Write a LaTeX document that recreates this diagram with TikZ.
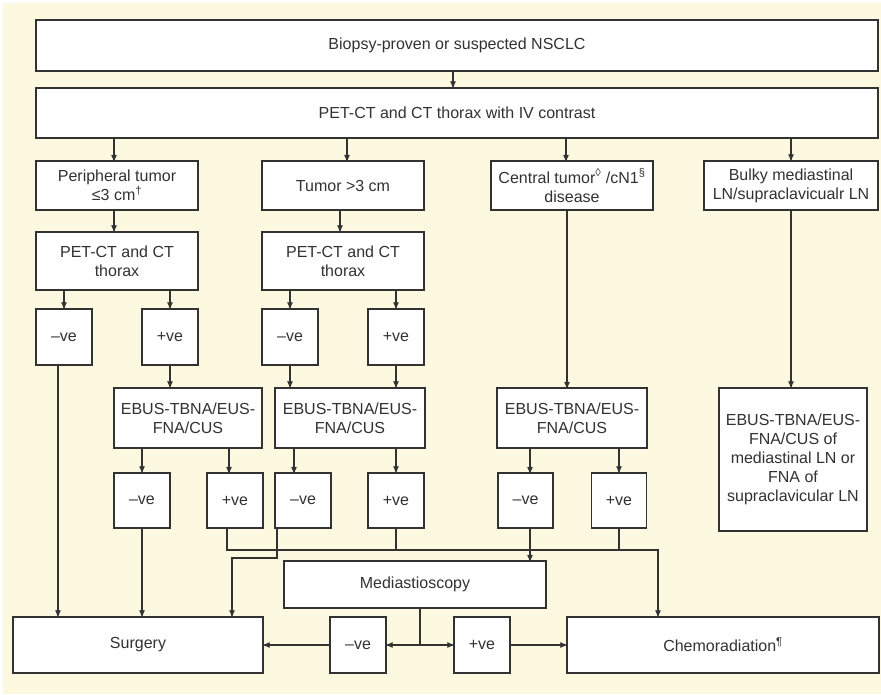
\documentclass[tikz,border=0pt]{standalone}
\usepackage{fontspec}
\setmainfont{Liberation Sans}
\usepackage{tikz}
\usetikzlibrary{arrows,positioning}
\definecolor{cream}{RGB}{252,249,224}
\definecolor{ink}{RGB}{50,50,50}

\begin{document}
\begin{tikzpicture}[x=1pt,y=-1pt,>=stealth',line width=1.2pt,color=ink,
    box/.style={draw=ink,fill=white,inner sep=0pt,align=center,
      font=\fontsize{16}{19}\selectfont},
    sq/.style={box,minimum width=56pt,minimum height=56pt},
    arr/.style={->}]
  \useasboundingbox (0,0) rectangle (881,694);
  \fill[cream] (3,3) rectangle (881,694);

  % top rows
  \node[box,minimum width=842pt,minimum height=51pt] (bx) at (457,45.5) {Biopsy-proven or suspected NSCLC};
  \node[box,minimum width=842pt,minimum height=50pt] (pet) at (457,113) {PET-CT and CT thorax with IV contrast};
  \node[box,minimum width=162pt,minimum height=49pt] (per) at (117,185.5) {Peripheral tumor\\≤3 cm\textsuperscript{†}};
  \node[box,minimum width=162pt,minimum height=49pt] (big) at (343,185.5) {Tumor >3 cm};
  \node[box,minimum width=162pt,minimum height=49pt] (cen) at (572,185.5) {Central tumor\textsuperscript{◊} /cN1\textsuperscript{§}\\disease};
  \node[box,minimum width=174pt,minimum height=49pt] (blk) at (791,185.5) {Bulky mediastinal\\LN/supraclavicualr LN};
  \node[box,minimum width=162pt,minimum height=58pt] (petA) at (117,261) {PET-CT and CT\\thorax};
  \node[box,minimum width=162pt,minimum height=58pt] (petB) at (343,261) {PET-CT and CT\\thorax};

  % first results
  \node[sq] (nA) at (64,337) {–ve};
  \node[sq] (pA) at (170,337) {+ve};
  \node[sq] (nB) at (290,337) {–ve};
  \node[sq] (pB) at (396,337) {+ve};

  % needle sampling
  \node[box,minimum width=148pt,minimum height=60pt] (ebA) at (188,418) {EBUS-TBNA/EUS-\\FNA/CUS};
  \node[box,minimum width=150pt,minimum height=60pt] (ebB) at (350,418) {EBUS-TBNA/EUS-\\FNA/CUS};
  \node[box,minimum width=150pt,minimum height=60pt] (ebC) at (572,418) {EBUS-TBNA/EUS-\\FNA/CUS};
  \node[box,minimum width=148pt,minimum height=143pt] (ebD) at (793,459.5) {EBUS-TBNA/EUS-\\FNA/CUS of\\mediastinal LN or\\FNA of\\supraclavicular LN};

  \node[sq,minimum height=55pt] (nC) at (142,500.5) {–ve};
  \node[sq,minimum height=55pt] (pC) at (235,500.5) {+ve};
  \node[sq,minimum height=55pt] (nD) at (303,500.5) {–ve};
  \node[sq,minimum height=55pt] (pD) at (396,500.5) {+ve};
  \node[sq,minimum width=55pt,minimum height=55pt] (nE) at (525.5,500.5) {–ve};
  \node[sq,minimum width=55pt,minimum height=55pt] (pE) at (619,500.5) {+ve};

  % bottom rows
  \node[box,minimum width=262pt,minimum height=47pt] (med) at (415,584.5) {Mediastioscopy};
  \node[box,minimum width=250pt,minimum height=56pt] (sur) at (138,645) {Surgery};
  \node[sq] (nF) at (358,645) {–ve};
  \node[sq] (pF) at (482,645) {+ve};
  \node[box,minimum width=312pt,minimum height=56pt] (che) at (723,645) {Chemoradiation\textsuperscript{¶}};

  \coordinate (jC) at (227,550);
  \coordinate (jR) at (658,550);
  \coordinate (jD) at (277,558);
  \coordinate (jS) at (232,558);
  \coordinate (jM) at (420,645);

  % straight arrows
  \draw[arr] ([xshift=-4pt]bx.south) -- ([xshift=-4pt]pet.north);
  \draw[arr] (pet.south -| 114,0) -- (114,161);
  \draw[arr] (pet.south -| 347,0) -- (347,161);
  \draw[arr] (pet.south -| 566,0) -- (566,161);
  \draw[arr] (pet.south -| blk) -- (blk);
  \draw[arr] ([xshift=-3pt]per.south) -- ([xshift=-3pt]petA.north);
  \draw[arr] ([xshift=-3pt]big.south) -- ([xshift=-3pt]petB.north);
  \draw[arr] (petA.south -| nA) -- (nA);
  \draw[arr] (petA.south -| pA) -- (pA);
  \draw[arr] (petB.south -| nB) -- (nB);
  \draw[arr] (petB.south -| pB) -- (pB);
  \draw[arr] ([xshift=-6pt]nA.south) -- ([xshift=-6pt]nA.south |- sur.north);
  \draw[arr] (pA) -- (pA |- ebA.north);
  \draw[arr] (nB) -- (nB |- ebB.north);
  \draw[arr] (pB) -- (pB |- ebB.north);
  \draw[arr] (cen.south -| 567,0) -- (567,388);
  \draw[arr] (blk) -- (blk |- ebD.north);
  \draw[arr] (ebA.south -| nC) -- (nC);
  \draw[arr] (ebA.south -| 229,0) -- (229,473);
  \draw[arr] (ebB.south -| 294,0) -- (294,473);
  \draw[arr] (ebB.south -| pD) -- (pD);
  \draw[arr] (ebC.south -| 530,0) -- (530,473);
  \draw[arr] (ebC.south -| pE) -- (pE);
  \draw[arr] (nC) -- (nC |- sur.north);

  % joined lines
  \draw[arr] (jC |- pC.south) -- (jC) -- (jR) -- (jR |- che.north);
  \draw (pD) -- (pD |- jC);
  \draw (pE) -- (pE |- jC);
  \draw[arr] (530,528) -- (530,561);
  \draw[arr] (jD |- nD.south) -- (jD) -- (jS) -- (jS |- sur.north);
  \draw (med.south -| jM) -- (jM);
  \draw[arr] (jM) -- (nF);
  \draw[arr] (jM) -- (pF);
  \draw[arr] (nF) -- (sur);
  \draw[arr] (pF) -- (che);
\end{tikzpicture}
\end{document}
